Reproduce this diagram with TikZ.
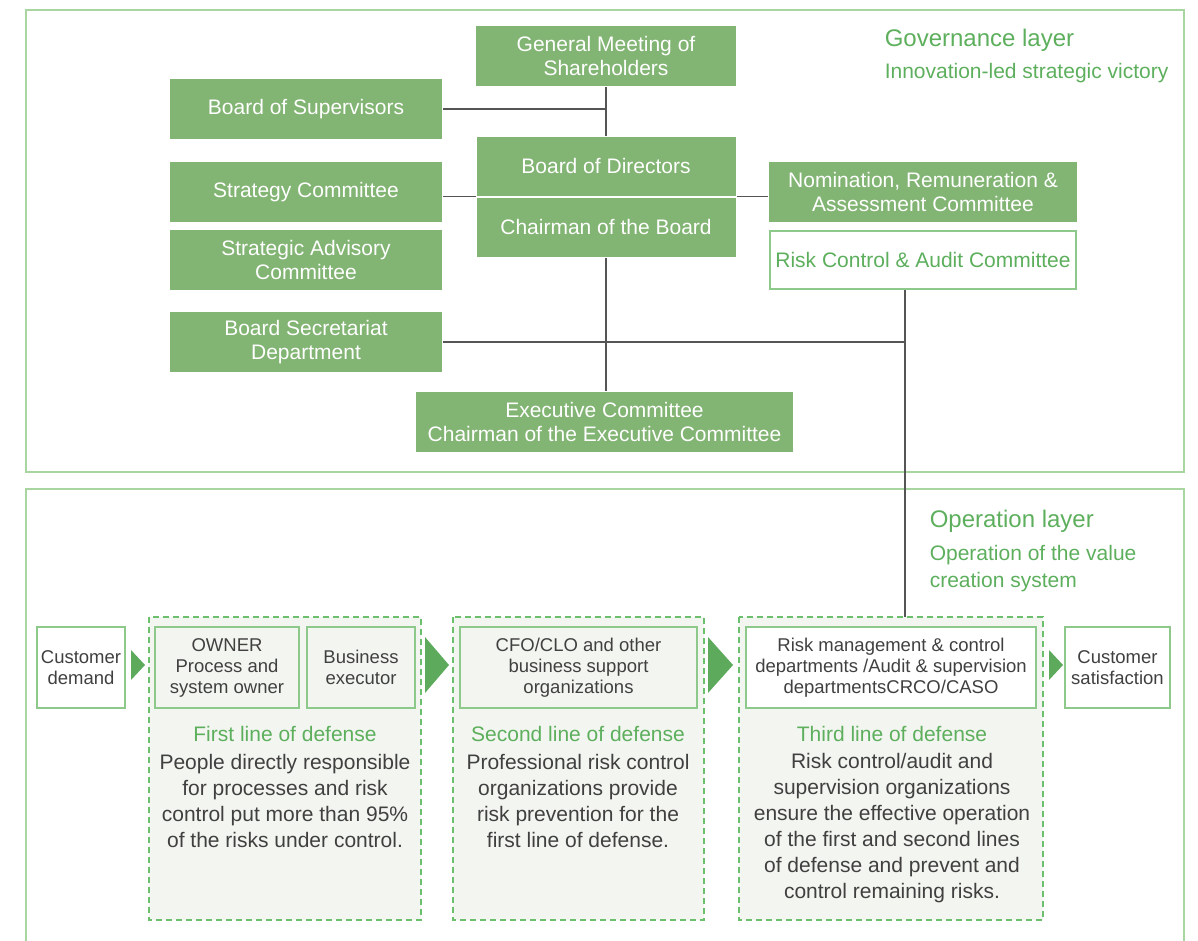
\documentclass[tikz,border=0pt]{standalone}
\usepackage{fontspec}
\setmainfont{Liberation Sans}
\usetikzlibrary{positioning}
\definecolor{ggreen}{HTML}{82B473}
\definecolor{gtext}{HTML}{5DAF5D}
\definecolor{gframe}{HTML}{A8D5A0}
\definecolor{gdash}{HTML}{6CBF6C}
\definecolor{garrow}{HTML}{5DAA5D}
\definecolor{gpale}{HTML}{F3F6F0}
\definecolor{gborder}{HTML}{8CC98A}
\definecolor{ggray}{HTML}{404040}
\definecolor{glink}{HTML}{555555}

\begin{document}
\begin{tikzpicture}[x=1pt, y=-1pt, line width=1.5pt,
    govbox/.style={fill=ggreen, text=white, inner sep=0pt, align=center,
      minimum height=60, font=\fontsize{21}{24}\selectfont},
    opbox/.style={draw=gborder, fill=gpale, text=ggray, inner sep=0pt, align=center,
      minimum height=81, font=\fontsize{18.5}{21}\selectfont},
    linebox/.style={draw=gdash, fill=gpale, dash pattern=on 6pt off 4pt},
    head/.style={text=gtext, inner sep=0pt, font=\fontsize{21}{24}\selectfont},
    bodytext/.style={text=ggray, inner sep=0pt, align=center, font=\fontsize{21}{26}\selectfont},
    link/.style={draw=glink}]
  \useasboundingbox (0,0) rectangle (1198,940);

  % frames
  \draw[gframe] (26,10) rectangle (1184,472);
  \draw[gframe] (26,950) -- (26,489) -- (1184,489) -- (1184,950);

  % governance layer
  \node[govbox, minimum width=260] (gm) at (606,56) {General Meeting of\\Shareholders};
  \node[govbox, minimum width=272] (bos) at (306,109) {Board of Supervisors};
  \node[govbox, minimum width=260, draw=white, line width=1pt] (bod) at (606,166) {Board of Directors};
  \node[govbox, minimum width=260, draw=white, line width=1pt] (chair) at (606,227) {Chairman of the Board};
  \node[govbox, minimum width=272] (strat) at (306,192) {Strategy Committee};
  \node[govbox, minimum width=272] (adv) at (306,260) {Strategic Advisory\\Committee};
  \node[govbox, minimum width=272] (sec) at (306,342) {Board Secretariat\\Department};
  \node[govbox, minimum width=377] (exec) at (604.5,422) {Executive Committee\\Chairman of the Executive Committee};
  \node[govbox, minimum width=308] (nom) at (923,192) {Nomination, Remuneration \&\\Assessment Committee};
  \node[govbox, minimum width=306, minimum height=58, fill=white, draw=gborder, line width=2pt, text=gtext]
    (risk) at (923,260) {Risk Control \& Audit Committee};

  \node[head, anchor=west, font=\fontsize{24}{28}\selectfont] (gov) at (884,40) {Governance layer};
  \node[head, anchor=west] (govsub) at (884,73) {Innovation-led strategic victory};

  \coordinate (rj) at (905,342);
  \coordinate (l3top) at (905,618);
  \draw[link] (gm) -- (bod);
  \draw[link] (bos.east) -- (bos.east -| gm.south);
  \draw[link] (bod.south west -| strat.east) -- (bod.south west);
  \draw[link] (bod.south east) -- (bod.south east -| nom.west);
  \draw[link] (chair.south) -- (chair.south |- exec.north);
  \draw[link] (sec.east) -- (rj);
  \draw[link] (rj |- risk.south) -- (l3top);

  % operation layer
  \node[head, anchor=west, font=\fontsize{24}{28}\selectfont] (op) at (929,521) {Operation layer};
  \node[head, anchor=north west, align=left, font=\fontsize{21}{27}\selectfont] (opsub) at (929,545)
    {Operation of the value\\creation system};

  \draw[linebox] (149,617) rectangle (421,920);
  \draw[linebox] (453,617) rectangle (704,920);
  \draw[linebox] (739,617) rectangle (1043,920);

  \node[opbox, minimum width=88, fill=white] (cd) at (81,667.5) {Customer\\demand};
  \node[opbox, minimum width=144] (owner) at (227,667.5) {OWNER\\Process and\\system owner};
  \node[opbox, minimum width=108] (bexec) at (361,667.5) {Business\\executor};
  \node[opbox, minimum width=237] (cfo) at (578.5,667.5) {CFO/CLO and other\\business support\\organizations};
  \node[opbox, minimum width=290, fill=white] (rmd) at (891,667.5)
    {Risk management \& control\\departments /Audit \& supervision\\departmentsCRCO/CASO};
  \node[opbox, minimum width=105, fill=white] (cs) at (1117.5,667.5) {Customer\\satisfaction};

  \fill[garrow] (131,650) -- (145,665) -- (131,680) -- cycle;
  \fill[garrow] (425,637) -- (449,665) -- (425,693) -- cycle;
  \fill[garrow] (708,637) -- (733,665) -- (708,693) -- cycle;
  \fill[garrow] (1049,650) -- (1063,665) -- (1049,680) -- cycle;

  \node[head] (h1) at (285,734) {First line of defense};
  \node[bodytext] (b1) at (285,801) {People directly responsible\\for processes and risk\\control put more than 95\%\\of the risks under control.};
  \node[head] (h2) at (578,734) {Second line of defense};
  \node[bodytext] (b2) at (578,801) {Professional risk control\\organizations provide\\risk prevention for the\\first line of defense.};
  \node[head] (h3) at (892,734) {Third line of defense};
  \node[bodytext] (b3) at (892,828) {Risk control/audit and\\supervision organizations\\ensure the effective operation\\of the first and second lines\\of defense and prevent and\\control remaining risks.};
\end{tikzpicture}
\end{document}
